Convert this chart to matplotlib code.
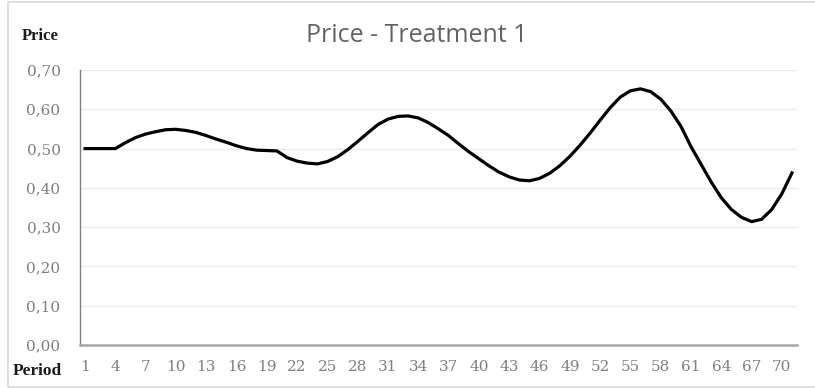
import matplotlib
matplotlib.use('Agg')
import matplotlib.pyplot as plt
from matplotlib.patches import Rectangle

periods = list(range(1, 72))
price = [0.500, 0.500, 0.500, 0.500, 0.515, 0.528, 0.537, 0.543, 0.548, 0.549,
         0.546, 0.541, 0.533, 0.524, 0.516, 0.507, 0.500, 0.496, 0.495, 0.494,
         0.477, 0.468, 0.463, 0.461, 0.467, 0.479, 0.497, 0.518, 0.540, 0.561,
         0.575, 0.582, 0.583, 0.578, 0.566, 0.550, 0.533, 0.512, 0.492, 0.474,
         0.456, 0.440, 0.428, 0.420, 0.418, 0.424, 0.437, 0.456, 0.480, 0.508,
         0.539, 0.572, 0.604, 0.631, 0.647, 0.652, 0.645, 0.626, 0.596, 0.557,
         0.505, 0.460, 0.415, 0.375, 0.345, 0.325, 0.314, 0.320, 0.345, 0.385,
         0.438]
yticks = [0.0, 0.1, 0.2, 0.3, 0.4, 0.5, 0.6, 0.7]
xticks = periods[::3]

W, H = 815, 388
fig = plt.figure(figsize=(W / 100, H / 100), dpi=100)

# chart frame
fig.patches.append(Rectangle((8 / W, 1 / H), 1.0, (386 - 1) / H, transform=fig.transFigure,
                             fill=False, edgecolor='#d9d9d9', linewidth=1.2))

ax = fig.add_axes([80 / W, 43 / H, 717 / W, 275 / H])
ax.plot(periods, price, color='black', linewidth=2.3, solid_joinstyle='round')

ax.set_xlim(0.5, 71.5)
ax.set_ylim(0, 0.7)
ax.set_yticks(yticks)
ax.set_yticklabels([('%.2f' % v).replace('.', ',') for v in yticks])
ax.set_xticks(xticks)
ax.set_xticklabels([str(p) for p in xticks])
ax.tick_params(axis='both', length=0, labelsize=11, labelcolor='#7f7f7f',
               labelfontfamily='DejaVu Serif')
ax.tick_params(axis='y', pad=14)
ax.tick_params(axis='x', pad=11)

ax.grid(axis='y', color='#ececec', linewidth=1)
ax.set_axisbelow(True)
for s in ['top', 'right']:
    ax.spines[s].set_visible(False)
ax.spines['left'].set_color('#808080')
ax.spines['left'].set_linewidth(1)
ax.spines['bottom'].set_color('#a6a6a6')
ax.spines['bottom'].set_linewidth(1.8)

fig.text(417 / W, 1 - 35 / H, 'Price - Treatment 1', ha='center', va='center',
         fontsize=18, color='#636363', family='Open Sans', fontweight='medium')
fig.text(22 / W, 1 - 36 / H, 'Price', ha='left', va='center', fontsize=12,
         fontweight='bold', family='Liberation Serif', color='#1a1a1a')
fig.text(13 / W, 1 - 371 / H, 'Period', ha='left', va='center', fontsize=12.5,
         fontweight='bold', family='Liberation Serif', color='#1a1a1a')

fig.savefig('out.png', dpi=100)
